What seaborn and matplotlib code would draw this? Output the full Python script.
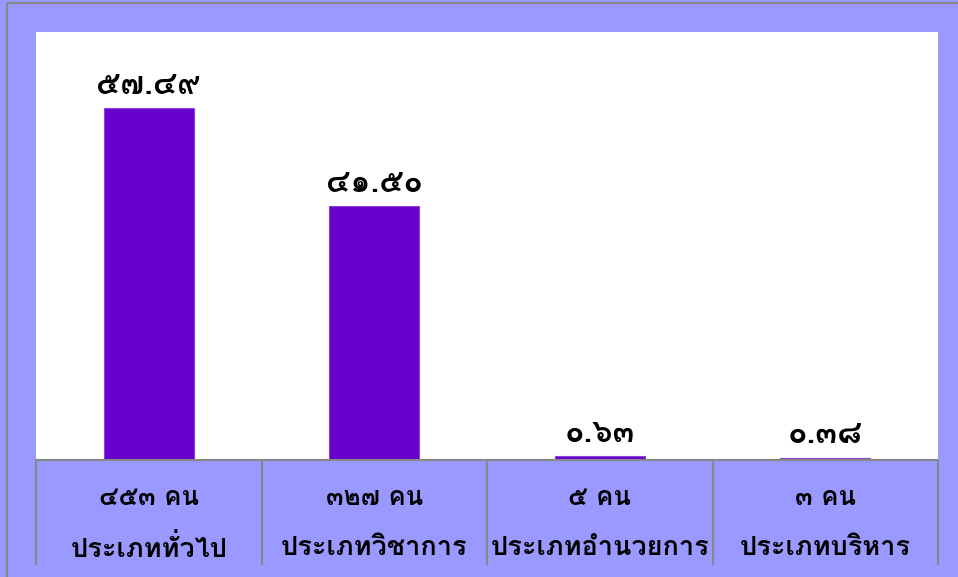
import matplotlib
matplotlib.use('Agg')
import matplotlib.pyplot as plt
import matplotlib.transforms as mtransforms
from matplotlib import font_manager
from matplotlib.ft2font import FT2Font
from matplotlib.lines import Line2D
import seaborn as sns
import pandas as pd

# data
categories = ['ประเภททั่วไป', 'ประเภทวิชาการ', 'ประเภทอำนวยการ', 'ประเภทบริหาร']
counts = ['๔๕๓ คน', '๓๒๗ คน', '๕ คน', '๓ คน']
percent = [57.49, 41.50, 0.63, 0.38]

thai_digits = str.maketrans('0123456789', '๐๑๒๓๔๕๖๗๘๙')

# find a font that has thai glyphs (prefer a bold face)
thai_font = 'DejaVu Sans'
found = []
for f in font_manager.fontManager.ttflist:
    try:
        if 0x0E01 in FT2Font(f.fname).get_charmap():
            found.append(f)
    except Exception:
        pass
if found:
    bold = [f for f in found if f.weight in ('bold', 700, 'heavy', 800, 900)]
    thai_font = (bold or found)[0].name

sns.set_style('white')
plt.rcParams['font.family'] = [thai_font, 'DejaVu Sans']
plt.rcParams['text.color'] = 'black'

df = pd.DataFrame({'cat': categories, 'pct': percent})

fig = plt.figure(figsize=(9.58, 5.77), dpi=100)
fig.patch.set_facecolor('#9999FF')
# grey frame, only the left and top edges show
fx, fy = 6.5 / 958, 1 - 2.5 / 577
fig.lines.append(Line2D([fx, fx], [0, fy], transform=fig.transFigure, color='#888888', linewidth=1.5))
fig.lines.append(Line2D([fx, 1], [fy, fy], transform=fig.transFigure, color='#888888', linewidth=1.5))

ax = fig.add_axes([36 / 958, 117 / 577, 902 / 958, 428 / 577])
ax.set_facecolor('white')
sns.barplot(data=df, x='cat', y='pct', color='#6600CC', saturation=1, width=0.4,
            edgecolor='#8844DD', linewidth=0.8, ax=ax)
ax.set_ylim(0, 70)
ax.set_xlim(-0.5, 3.5)
ax.set_xlabel('')
ax.set_ylabel('')
ax.set_xticks([])
ax.set_yticks([])
for s in ['top', 'left', 'right']:
    ax.spines[s].set_visible(False)
ax.spines['bottom'].set_color('#888888')
ax.spines['bottom'].set_linewidth(1.5)

labels = [f'{v:.2f}'.translate(thai_digits) for v in percent]
ax.bar_label(ax.containers[0], labels=labels, padding=6, fontsize=23, fontweight='bold',
             color='black')

# table under the bars
trans = mtransforms.blended_transform_factory(ax.transData, ax.transAxes)
ax.vlines([-0.5, 0.5, 1.5, 2.5, 3.5], -105 / 428, 0, transform=trans, color='#888888',
          linewidth=1.5, clip_on=False)
for i, (c, n) in enumerate(zip(categories, counts)):
    ax.text(i, -38 / 428, n, transform=trans, ha='center', va='center',
            fontsize=18.5, fontweight='bold', color='black')
    ax.text(i, -88 / 428, c, transform=trans, ha='center', va='center',
            fontsize=19.5, fontweight='bold', color='black')

fig.savefig('out.png', dpi=100, facecolor=fig.get_facecolor())
